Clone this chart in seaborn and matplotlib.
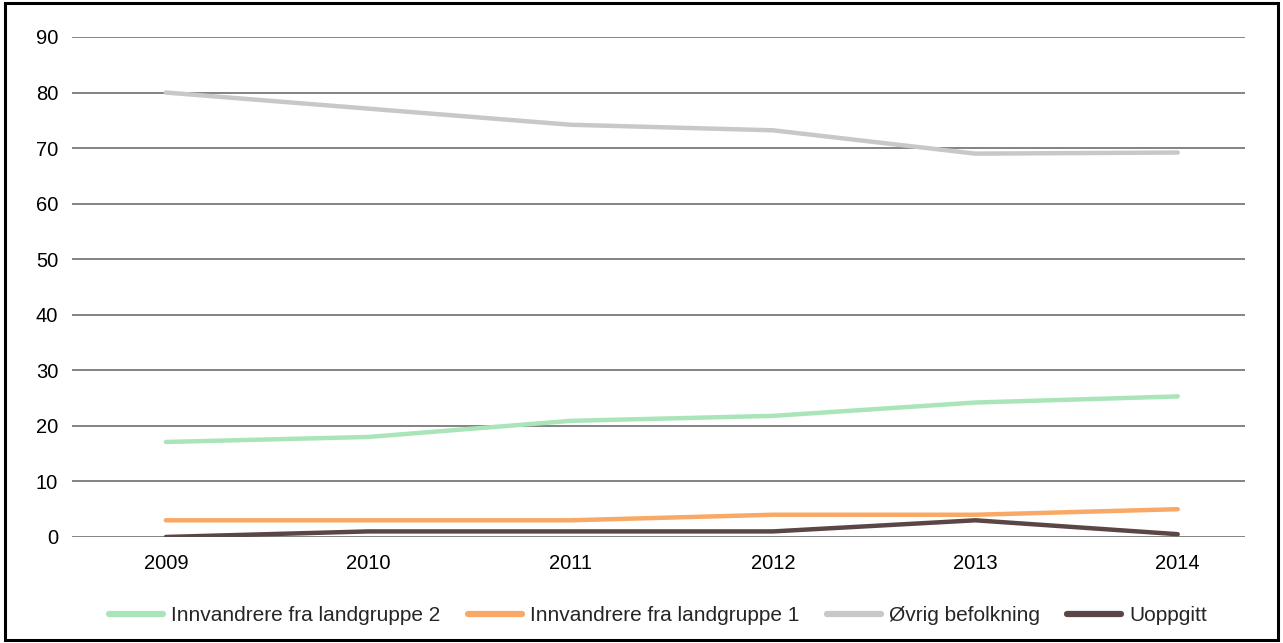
import matplotlib
matplotlib.use("Agg")
import matplotlib.pyplot as plt
import seaborn as sns
import pandas as pd
from matplotlib.patches import Rectangle
from matplotlib.lines import Line2D

years = [2009, 2010, 2011, 2012, 2013, 2014]
landgruppe2 = [17.1, 18.0, 20.9, 21.8, 24.2, 25.3]
landgruppe1 = [3.0, 3.0, 3.0, 4.0, 4.0, 5.0]
ovrig = [80.0, 77.1, 74.2, 73.2, 69.0, 69.2]
uoppgitt = [0.0, 1.0, 1.0, 1.0, 3.0, 0.5]

series_names = ["Innvandrere fra landgruppe 2", "Innvandrere fra landgruppe 1",
                "Øvrig befolkning", "Uoppgitt"]
colors = ["#a9e5b8", "#f9a865", "#c8c8c8", "#5b4646"]

df = pd.DataFrame({"År": years * 4,
                   "Verdi": landgruppe2 + landgruppe1 + ovrig + uoppgitt,
                   "Serie": sum([[n] * len(years) for n in series_names], [])})

sns.set_theme(style="white")
plt.rcParams['font.family'] = ['Liberation Sans', 'DejaVu Sans']

fig = plt.figure(figsize=(12.83, 6.43), dpi=100)
ax = fig.add_axes([0.0561, 0.1649, 0.9139, 0.7776])

sns.lineplot(data=df, x="År", y="Verdi", hue="Serie", hue_order=series_names,
             palette=colors, linewidth=3.2, ax=ax, legend=False, zorder=3)

ax.set_xlim(2008.536, 2014.33)
ax.set_ylim(0, 90)
ax.set_yticks(range(0, 91, 10))
ax.set_xticks(years)
ax.set_xticklabels([str(y) for y in years])
ax.grid(axis="y", color="#7a7a7a", linewidth=1.3)
ax.grid(axis="x", visible=False)
for s in ax.spines.values():
    s.set_visible(False)
ax.set_xlabel("")
ax.set_ylabel("")
ax.tick_params(axis="both", labelsize=14.5, colors="black", length=0)
ax.tick_params(axis="x", pad=12)
ax.tick_params(axis="y", pad=10)

handles = [Line2D([], [], color=c, linewidth=4.5) for c in colors]
fig.legend(handles, series_names, loc="center", bbox_to_anchor=(0.513, 0.043),
           ncol=4, frameon=False, fontsize=15, handlelength=2.6,
           columnspacing=1.3, handletextpad=0.4)

fig.patches.append(Rectangle((0.004, 0.004), 0.992, 0.991, transform=fig.transFigure,
                             fill=False, edgecolor="black", linewidth=2.2))

fig.savefig("out.png", dpi=100, facecolor="white")
